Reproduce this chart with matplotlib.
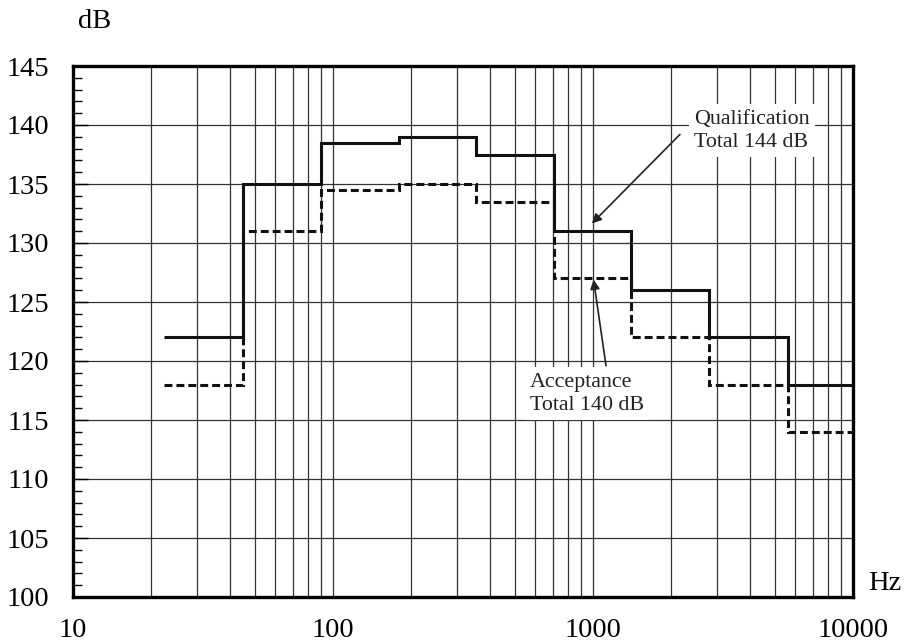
import matplotlib
matplotlib.use("Agg")
import matplotlib.pyplot as plt
from matplotlib.ticker import FixedLocator, NullFormatter, MultipleLocator
import numpy as np

# Octave band edges (Hz)
band_edges = [22.4, 45, 90, 180, 355, 710, 1400, 2800, 5600, 11200]
qualification_db = [122, 135, 138.5, 139, 137.5, 131, 126, 122, 118]
acceptance_db = [118, 131, 134.5, 135, 133.5, 127, 122, 118, 114]

x_ticks = [10, 100, 1000, 10000]
x_tick_labels = ["10", "100", "1000", "10000"]
y_ticks = [100, 105, 110, 115, 120, 125, 130, 135, 140, 145]

plt.rcParams['font.family'] = ['Liberation Serif', 'DejaVu Serif']

fig = plt.figure(figsize=(9.05, 6.42), dpi=100)
ax = fig.add_axes([73/905, 1-597/642, (853-73)/905, (597-66)/642])

ax.set_xscale('log')
ax.set_xlim(10, 10000)
ax.set_ylim(100, 145)

# Grid
ax.set_xticks(x_ticks)
ax.set_xticklabels(x_tick_labels)
minor_x = [m * d for d in [10, 100, 1000] for m in range(2, 10)]
ax.xaxis.set_minor_locator(FixedLocator(minor_x))
ax.xaxis.set_minor_formatter(NullFormatter())
ax.set_yticks(y_ticks)
ax.yaxis.set_minor_locator(MultipleLocator(1))

ax.grid(True, which='major', axis='both', color='#333333', linewidth=0.9, zorder=1)
ax.grid(True, which='minor', axis='x', color='#333333', linewidth=0.9, zorder=1)

ax.tick_params(axis='y', which='major', direction='in', length=11, width=1,
               labelsize=20.5, pad=17, right=False)
ax.tick_params(axis='y', which='minor', direction='in', length=6.5, width=1, right=False)
ax.tick_params(axis='x', which='both', length=0, labelsize=20.5, pad=15)

for s in ax.spines.values():
    s.set_linewidth(2.4)
    s.set_color('black')

# Steps
ax.stairs(qualification_db, band_edges, baseline=None, color='#111111',
          linewidth=2.2, zorder=4)
ax.stairs(acceptance_db, band_edges, baseline=None, color='#111111',
          linewidth=2.2, linestyle=(0, (2.6, 1.3)), zorder=3)

# Annotations
ax.text(2450, 141.3, "Qualification\nTotal 144 dB", fontsize=15.8, ha='left', va='top',
        linespacing=1.3, color='#222222', zorder=5,
        bbox=dict(boxstyle='square,pad=0.25', facecolor='white', edgecolor='none'))
ax.annotate('', xy=(990, 131.65), xytext=(2160, 139.2),
            arrowprops=dict(arrowstyle='-|>', color='#222222', lw=1.2,
                            mutation_scale=14, shrinkA=0, shrinkB=0), zorder=6)

ax.text(570, 119.0, "Acceptance\nTotal 140 dB", fontsize=15.8, ha='left', va='top',
        linespacing=1.3, color='#222222', zorder=5,
        bbox=dict(boxstyle='square,pad=0.25', facecolor='white', edgecolor='none'))
ax.annotate('', xy=(1005, 126.9), xytext=(1122, 119.6),
            arrowprops=dict(arrowstyle='-|>', color='#222222', lw=1.2,
                            mutation_scale=14, shrinkA=0, shrinkB=0), zorder=6)

# Axis unit labels
fig.text(95/905, 1-22/642, "dB", fontsize=20.5, ha='center', va='center')
fig.text(885/905, 1-583/642, "Hz", fontsize=20.5, ha='center', va='center')

fig.savefig("out.png", dpi=100)
